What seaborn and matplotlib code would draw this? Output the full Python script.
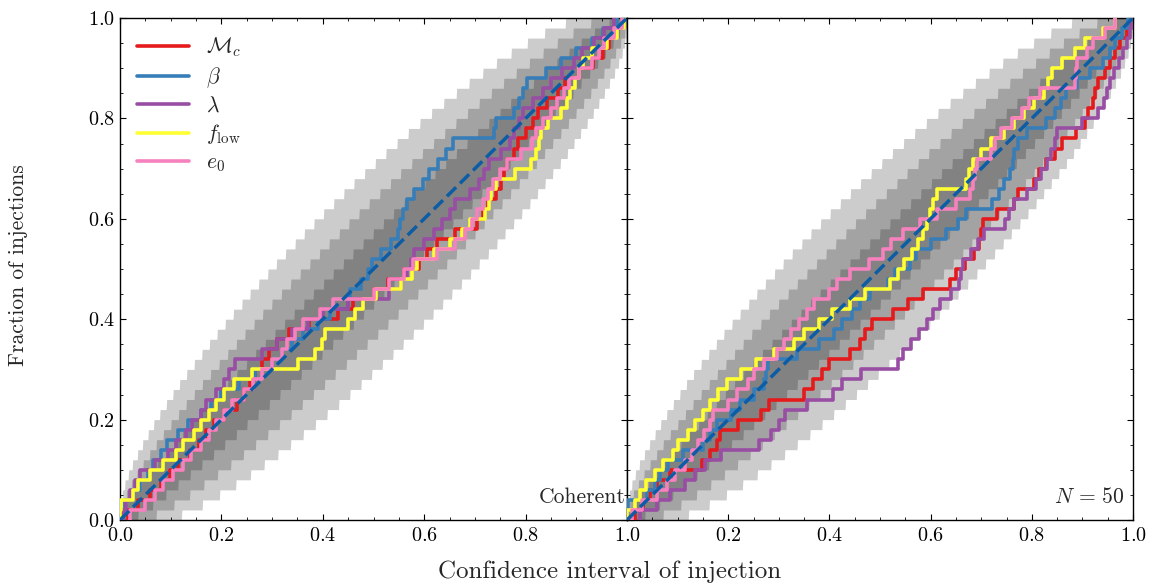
import math
import numpy as np
import matplotlib
matplotlib.use("Agg")
import matplotlib.pyplot as plt
import seaborn as sns
from matplotlib.ticker import MultipleLocator

# ---------------- data ----------------
N_INJ = 50
CONF_LEVELS = [0.68, 0.95, 0.997]
PARAM_LABELS = [r"$\mathcal{M}_c$", r"$\beta$", r"$\lambda$", r"$f_{\rm low}$", r"$e_0$"]
PARAM_COLORS = ["#e41a1c", "#377eb8", "#984ea3", "#ffff33", "#f781bf"]
PANEL_TAGS = ["Coherent", r"$N\,=\,50$"]
X_LABEL = "Confidence interval of injection"
Y_LABEL = "Fraction of injections"

# credible levels of the 50 injections (left panel: Coherent)
coh_mc = [0.015, 0.035, 0.060, 0.080, 0.098, 0.115, 0.138, 0.155, 0.170, 0.185,
          0.205, 0.230, 0.245, 0.256, 0.266, 0.280, 0.293, 0.310, 0.333, 0.372,
          0.430, 0.460, 0.500, 0.528, 0.560, 0.590, 0.605, 0.625, 0.660, 0.705,
          0.715, 0.725, 0.742, 0.752, 0.757, 0.764, 0.778, 0.785, 0.800, 0.815,
          0.825, 0.842, 0.864, 0.878, 0.905, 0.932, 0.952, 0.965, 0.975, 0.990]
coh_beta = [0.003, 0.010, 0.025, 0.040, 0.055, 0.066, 0.080, 0.092, 0.115, 0.135,
            0.160, 0.180, 0.200, 0.235, 0.267, 0.300, 0.320, 0.340, 0.360, 0.390,
            0.415, 0.450, 0.453, 0.475, 0.490, 0.498, 0.515, 0.535, 0.548, 0.553,
            0.558, 0.567, 0.580, 0.597, 0.610, 0.628, 0.643, 0.657, 0.738, 0.741,
            0.778, 0.786, 0.795, 0.802, 0.840, 0.870, 0.900, 0.930, 0.953, 0.980]
coh_lambda = [0.005, 0.012, 0.020, 0.030, 0.040, 0.070, 0.095, 0.110, 0.130, 0.142,
              0.160, 0.170, 0.190, 0.205, 0.215, 0.227, 0.280, 0.310, 0.340, 0.370,
              0.400, 0.450, 0.530, 0.555, 0.567, 0.574, 0.580, 0.600, 0.620, 0.635,
              0.650, 0.660, 0.690, 0.708, 0.718, 0.728, 0.752, 0.770, 0.778, 0.786,
              0.795, 0.815, 0.835, 0.850, 0.872, 0.895, 0.912, 0.935, 0.955, 0.975]
coh_flow = [0.000, 0.002, 0.025, 0.035, 0.060, 0.085, 0.110, 0.125, 0.145, 0.160,
            0.175, 0.190, 0.205, 0.225, 0.260, 0.352, 0.385, 0.398, 0.405, 0.450,
            0.463, 0.480, 0.505, 0.555, 0.575, 0.585, 0.620, 0.650, 0.675, 0.690,
            0.720, 0.727, 0.732, 0.742, 0.780, 0.810, 0.820, 0.826, 0.830, 0.845,
            0.870, 0.882, 0.887, 0.898, 0.905, 0.914, 0.930, 0.960, 0.980, 0.995]
coh_e0 = [0.020, 0.050, 0.070, 0.085, 0.105, 0.125, 0.140, 0.160, 0.175, 0.190,
          0.205, 0.220, 0.245, 0.262, 0.280, 0.300, 0.320, 0.330, 0.345, 0.360,
          0.395, 0.420, 0.500, 0.530, 0.560, 0.578, 0.625, 0.660, 0.680, 0.695,
          0.705, 0.715, 0.725, 0.735, 0.750, 0.763, 0.790, 0.812, 0.820, 0.835,
          0.850, 0.862, 0.875, 0.885, 0.905, 0.930, 0.945, 0.955, 0.975, 0.990]

# credible levels of the 50 injections (right panel: N = 50)
n50_mc = [0.015, 0.032, 0.045, 0.059, 0.085, 0.148, 0.165, 0.178, 0.184, 0.220,
          0.265, 0.280, 0.350, 0.368, 0.385, 0.400, 0.440, 0.460, 0.470, 0.485,
          0.525, 0.555, 0.585, 0.638, 0.650, 0.668, 0.685, 0.695, 0.700, 0.704,
          0.732, 0.765, 0.772, 0.805, 0.815, 0.828, 0.845, 0.860, 0.888, 0.905,
          0.912, 0.920, 0.925, 0.930, 0.945, 0.955, 0.965, 0.975, 0.988, 0.997]
n50_beta = [0.000, 0.002, 0.040, 0.055, 0.065, 0.082, 0.110, 0.150, 0.165, 0.178,
            0.205, 0.223, 0.250, 0.270, 0.274, 0.278, 0.335, 0.380, 0.410, 0.425,
            0.445, 0.460, 0.480, 0.515, 0.530, 0.560, 0.572, 0.600, 0.630, 0.655,
            0.670, 0.722, 0.735, 0.745, 0.757, 0.762, 0.765, 0.772, 0.790, 0.828,
            0.845, 0.858, 0.868, 0.890, 0.915, 0.940, 0.955, 0.965, 0.978, 0.990]
n50_lambda = [0.025, 0.060, 0.085, 0.115, 0.135, 0.155, 0.185, 0.260, 0.285, 0.300,
              0.312, 0.355, 0.407, 0.425, 0.462, 0.535, 0.546, 0.562, 0.578, 0.592,
              0.605, 0.618, 0.640, 0.657, 0.660, 0.665, 0.680, 0.693, 0.705, 0.748,
              0.755, 0.765, 0.790, 0.808, 0.818, 0.830, 0.838, 0.845, 0.850, 0.900,
              0.930, 0.943, 0.948, 0.955, 0.962, 0.972, 0.980, 0.988, 0.994, 0.998]
n50_flow = [0.000, 0.015, 0.026, 0.038, 0.055, 0.071, 0.090, 0.100, 0.120, 0.135,
            0.150, 0.165, 0.180, 0.198, 0.225, 0.255, 0.290, 0.330, 0.350, 0.380,
            0.405, 0.440, 0.470, 0.520, 0.535, 0.548, 0.563, 0.575, 0.585, 0.593,
            0.599, 0.605, 0.612, 0.670, 0.675, 0.684, 0.700, 0.720, 0.745, 0.765,
            0.785, 0.805, 0.825, 0.832, 0.840, 0.860, 0.885, 0.905, 0.940, 0.965]
n50_e0 = [0.010, 0.030, 0.060, 0.080, 0.095, 0.115, 0.128, 0.140, 0.152, 0.164,
          0.170, 0.200, 0.218, 0.240, 0.250, 0.270, 0.297, 0.310, 0.325, 0.340,
          0.355, 0.370, 0.400, 0.416, 0.440, 0.478, 0.505, 0.522, 0.545, 0.580,
          0.612, 0.650, 0.678, 0.684, 0.688, 0.692, 0.720, 0.727, 0.740, 0.760,
          0.780, 0.795, 0.816, 0.885, 0.888, 0.890, 0.910, 0.920, 0.945, 0.965]

panels = [
    [coh_mc, coh_beta, coh_lambda, coh_flow, coh_e0],
    [n50_mc, n50_beta, n50_lambda, n50_flow, n50_e0],
]

# ---------------- style ----------------
sns.set_style("ticks")
plt.rcParams.update({
    "font.family": "serif",
    "font.serif": ["cmr10"],
    "mathtext.fontset": "cm",
    "axes.formatter.use_mathtext": True,
    "axes.unicode_minus": False,
    "xtick.direction": "in",
    "ytick.direction": "in",
    "xtick.top": True,
    "ytick.right": True,
    "xtick.major.size": 4,
    "ytick.major.size": 4,
    "xtick.minor.size": 2,
    "ytick.minor.size": 2,
    "xtick.minor.visible": True,
    "ytick.minor.visible": True,
    "xtick.major.pad": 5,
    "axes.linewidth": 1.0,
    "axes.edgecolor": "black",
    "xtick.color": "black",
    "ytick.color": "black",
})


def binom_ppf(q, n, p):
    """Binomial percent point function (smallest k with CDF >= q)."""
    k = np.arange(n + 1)
    comb = np.array([math.comb(n, int(i)) for i in k], dtype=float)
    pmf = comb[None, :] * p[:, None] ** k[None, :] * (1 - p[:, None]) ** (n - k)[None, :]
    cdf = np.cumsum(pmf, axis=1)
    return np.argmax(cdf >= q - 1e-10, axis=1).astype(float)


W, H = 1154, 583
fig = plt.figure(figsize=(W / 100, H / 100), dpi=100)
ax1 = fig.add_axes([120 / W, 1 - 520 / H, 507 / W, 502 / H])
ax2 = fig.add_axes([627 / W, 1 - 520 / H, 506 / W, 502 / H], sharey=ax1)

x_grid = np.linspace(0, 1, 1001)

for ax, series, tag in zip([ax1, ax2], panels, PANEL_TAGS):
    for ci in CONF_LEVELS:
        edge = (1.0 - ci) / 2.0
        lower = binom_ppf(1 - edge, N_INJ, x_grid) / N_INJ
        upper = binom_ppf(edge, N_INJ, x_grid) / N_INJ
        lower[0] = 0
        upper[0] = 0
        ax.fill_between(x_grid, lower, upper, color="k", alpha=0.2, lw=0, zorder=1)

    for vals, lab, col in zip(series, PARAM_LABELS, PARAM_COLORS):
        sns.ecdfplot(x=np.asarray(vals), ax=ax, color=col, lw=2.6, label=lab, zorder=3)

    ax.plot([0, 1], [0, 1], ls="--", color="#0C5DA5", lw=2.5, zorder=4)
    ax.set_xlim(0, 1)
    ax.set_ylim(0, 1)
    ax.set_xlabel("")
    ax.set_ylabel("")
    ax.xaxis.set_minor_locator(MultipleLocator(0.05))
    ax.yaxis.set_minor_locator(MultipleLocator(0.05))
    ax.tick_params(labelsize=14.5)

ax1.set_xticks([0.0, 0.2, 0.4, 0.6, 0.8, 1.0])
ax1.set_yticks([0.0, 0.2, 0.4, 0.6, 0.8, 1.0])
ax2.set_xticks([0.2, 0.4, 0.6, 0.8, 1.0])
ax2.tick_params(labelleft=False)

ax1.text(0.997, 0.046, PANEL_TAGS[0], transform=ax1.transAxes, ha="right", va="center", fontsize=15.5)
ax2.text(0.984, 0.046, PANEL_TAGS[1], transform=ax2.transAxes, ha="right", va="center", fontsize=15.5)

ax1.legend(loc="upper left", frameon=False, fontsize=15.5, handlelength=2.4,
           labelspacing=0.3, borderaxespad=0.4, handletextpad=0.8)

fig.text(610 / W, 1 - 572 / H, X_LABEL, ha="center", va="center", fontsize=18)
fig.text(18 / W, 1 - 265 / H, Y_LABEL, ha="center", va="center", rotation=90, fontsize=15.5)

fig.savefig("out.png", dpi=100)
